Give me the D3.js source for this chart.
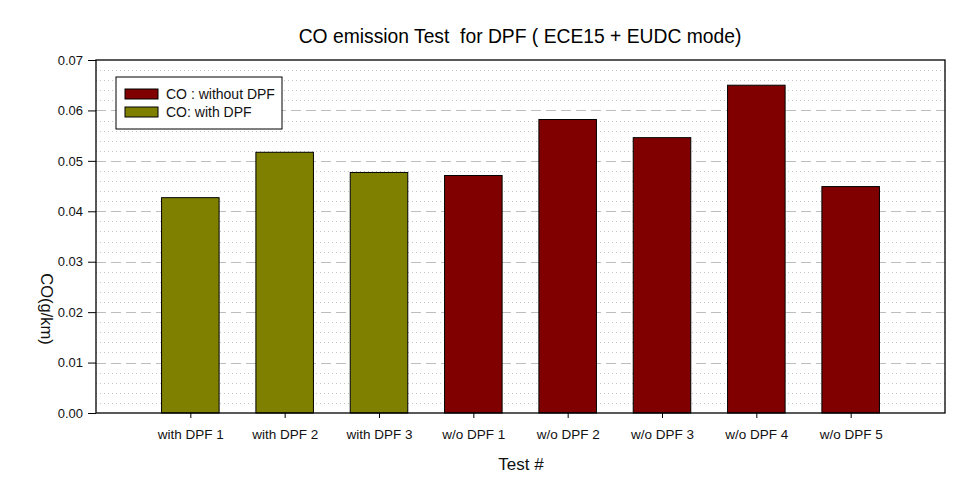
<!DOCTYPE html>
<html><head><meta charset="utf-8">
<script src="https://cdn.jsdelivr.net/npm/d3@7"></script>
<style>body{margin:0;background:#fff}svg{display:block}text{font-family:"Liberation Sans",Arial,sans-serif}</style>
</head><body><svg id="c" width="966" height="486"></svg>
<script>
const categories = ["with DPF 1","with DPF 2","with DPF 3","w/o DPF 1","w/o DPF 2","w/o DPF 3","w/o DPF 4","w/o DPF 5"];
const values = [0.0427,0.0517,0.0477,0.0471,0.0582,0.0546,0.0650,0.0449];
const groups = ["with","with","with","without","without","without","without","without"];
const yTicks = [0,0.01,0.02,0.03,0.04,0.05,0.06,0.07];
const minorTicks = d3.range(1,35).filter(i=>i%5!==0).map(i=>i*0.002);
const legendItems = [{key:"without",label:"CO : without DPF"},{key:"with",label:"CO: with DPF"}];
const colors = {with:"#808000", without:"#800000"};

const svg = d3.select("#c");
const L=96,R=945,T=60,B=413;
const x = d3.scalePoint().domain(categories).range([L,R]).padding(1);
const y = d3.scaleLinear().domain([0,0.07]).range([B,T]);
const bw = x.step()*0.61;

// minor grid
svg.append("g").selectAll("line").data(minorTicks).join("line")
  .attr("x1",L).attr("x2",R).attr("y1",d=>Math.round(y(d))+0.5).attr("y2",d=>Math.round(y(d))+0.5)
  .attr("stroke","#c4c4c4").attr("stroke-dasharray","1,3");
// major grid
svg.append("g").selectAll("line").data(yTicks.filter(d=>d>0&&d<0.07)).join("line")
  .attr("x1",L).attr("x2",R).attr("y1",d=>Math.round(y(d))+0.5).attr("y2",d=>Math.round(y(d))+0.5)
  .attr("stroke","#bdbdbd").attr("stroke-dasharray","10,5");

// bars
svg.append("g").selectAll("rect").data(categories).join("rect")
  .attr("x",d=>x(d)-bw/2).attr("width",bw)
  .attr("y",(d,i)=>y(values[i])).attr("height",(d,i)=>B-y(values[i]))
  .attr("fill",(d,i)=>colors[groups[i]]).attr("stroke","#000").attr("stroke-width",1);

// frame
svg.append("rect").attr("x",L).attr("y",T).attr("width",R-L).attr("height",B-T)
  .attr("fill","none").attr("stroke","#000").attr("stroke-width",1.3);

// axes
const yAxis = svg.append("g").attr("transform",`translate(${L},0)`)
  .call(d3.axisLeft(y).tickValues(yTicks).tickFormat(d3.format(".2f")).tickSize(8).tickPadding(5));
yAxis.select(".domain").remove();
yAxis.selectAll("text").attr("font-size",13).attr("fill","#111");
const xAxis = svg.append("g").attr("transform",`translate(0,${B})`)
  .call(d3.axisBottom(x).tickSize(5).tickPadding(11));
xAxis.select(".domain").remove();
xAxis.selectAll("text").attr("font-size",13.5).attr("fill","#111");

// titles
svg.append("text").attr("x",520).attr("y",42.5).attr("text-anchor","middle").attr("font-size",19.3)
  .style("white-space","pre").text("CO emission Test  for DPF ( ECE15 + EUDC mode)");
svg.append("text").attr("x",521).attr("y",470).attr("text-anchor","middle").attr("font-size",17).attr("fill","#111").text("Test #");
svg.append("text").attr("transform","translate(41,309) rotate(90)").attr("text-anchor","middle").attr("font-size",16.5).attr("fill","#111").text("CO(g/km)");

// legend
const lg = svg.append("g");
lg.append("rect").attr("x",116).attr("y",77).attr("width",166).attr("height",52).attr("fill","#fff").attr("stroke","#000");
legendItems.forEach((it,i)=>{
  lg.append("rect").attr("x",125).attr("y",89+i*18).attr("width",33).attr("height",10)
    .attr("fill",colors[it.key]).attr("stroke","#000");
  lg.append("text").attr("x",166).attr("y",99.3+i*18).attr("font-size",14).attr("fill","#111").text(it.label);
});
</script></body></html>
